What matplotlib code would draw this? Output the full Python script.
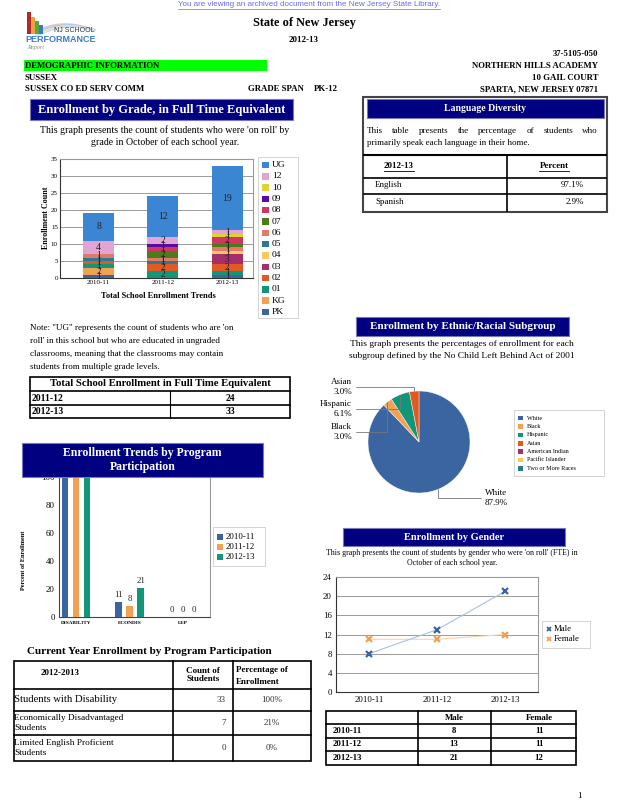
import matplotlib
matplotlib.use('Agg')
import matplotlib.pyplot as plt
from matplotlib.patches import Rectangle
from matplotlib.lines import Line2D
import numpy as np

plt.rcParams['font.family'] = ['Liberation Serif', 'DejaVu Serif']

W, H = 618, 800
NAVY = '#000080'

# ---- data ----
years = ['2010-11', '2011-12', '2012-13']
grades = ['PK', 'KG', '01', '02', '03', '04', '05', '06', '07', '08', '09', '10', '12', 'UG']
grade_colors = ['#3a65a0', '#f2a154', '#12967a', '#e05a22', '#a3306a', '#fbc860', '#2b7a92',
                '#e27a6a', '#4c7c1a', '#d33460', '#5c0aa6', '#dfd236', '#e2a4d2', '#3a86d2']
counts_2010 = [1, 2, 1, 1, 0, 0, 1, 1, 0, 0, 0, 0, 4, 8]
counts_2011 = [0, 0, 2, 2, 0, 0, 1, 1, 2, 1, 1, 0, 2, 12]
counts_2012 = [1, 0, 1, 2, 3, 1, 0, 1, 1, 2, 0, 1, 1, 19]

fte_years = ['2011-12', '2012-13']
fte_totals = [24, 33]

lang_names = ['English', 'Spanish']
lang_pct = [97.1, 2.9]

eth_names = ['White', 'Black', 'Hispanic', 'Asian', 'American Indian', 'Pacific Islander', 'Two or More Races']
eth_pct = [87.9, 3.0, 6.1, 3.0, 0.0, 0.0, 0.0]
eth_colors = ['#3a65a0', '#f2a154', '#12967a', '#e05a22', '#a3306a', '#fbc860', '#2b7a92']

prog_cats = ['DISABILITY', 'ECONDIS', 'LEP']
prog_2010 = [100, 11, 0]
prog_2011 = [100, 8, 0]
prog_2012 = [100, 21, 0]
prog_colors = ['#3a65a0', '#f2a154', '#12967a']

prog_rows = ['Students with Disability', 'Economically Disadvantaged\nStudents',
             'Limited English Proficient\nStudents']
prog_counts = [33, 7, 0]
prog_pcts = [100, 21, 0]

gender_male = [8, 13, 21]
gender_female = [11, 11, 12]

# ---- helpers (pixel coords, origin top-left) ----
fig = plt.figure(figsize=(W / 100, H / 100), dpi=100)
renderer = fig.canvas.get_renderer()


def fx(x):
    return x / W


def fy(y):
    return 1 - y / H


def txt(x, y, s, size=6.5, ha='left', va='center', bold=False, color='black', **kw):
    return fig.text(fx(x), fy(y), s, fontsize=size, ha=ha, va=va,
                    fontweight='bold' if bold else 'normal', color=color, **kw)


def rect(x0, y0, x1, y1, fc='none', ec='black', lw=0.8, z=1):
    fig.add_artist(Rectangle((fx(x0), fy(y1)), (x1 - x0) / W, (y1 - y0) / H,
                             transform=fig.transFigure, fc=fc, ec=ec, lw=lw, zorder=z))


def line(xs, ys, lw=0.8, color='black', z=2):
    fig.add_artist(Line2D([fx(v) for v in xs], [fy(v) for v in ys], lw=lw, color=color,
                          zorder=z, transform=fig.transFigure))


def axes_px(x0, y0, x1, y1):
    return fig.add_axes([fx(x0), fy(y1), (x1 - x0) / W, (y1 - y0) / H])


def banner(x0, y0, x1, y1, s, size=8.5):
    rect(x0, y0, x1, y1, fc=NAVY, ec='#7878b8', lw=0.8, z=5)
    fig.text(fx((x0 + x1) / 2), fy((y0 + y1) / 2), s, fontsize=size, ha='center', va='center',
             fontweight='bold', color='white', zorder=6, linespacing=1.15)


def width_of(t):
    return t.get_window_extent(renderer).width


def justify(x0, x1, y, s, size):
    words = s.split()
    ts = [txt(x0, y, w, size=size) for w in words]
    ws = [width_of(t) for t in ts]
    gap = (x1 - x0 - sum(ws)) / (len(words) - 1)
    xx = x0
    for t, w in zip(ts, ws):
        t.set_x(fx(xx))
        xx += w + gap


def underline(t, y, lw=0.6, color='black'):
    bb = t.get_window_extent(renderer)
    line([bb.x0, bb.x1], [y, y], lw=lw, color=color)


# ---- page header ----
t = txt(309, 4, 'You are viewing an archived document from the New Jersey State Library.',
        size=5.8, ha='center', color='#6a6af0', family='Liberation Sans')
underline(t, 8.5, lw=0.5, color='#6a6af0')

# logo
for (x0, y0, c) in [(27, 12, '#b02a2a'), (31, 17, '#f0a040'), (35, 21, '#5aa640'), (39, 25, '#3a7ac0')]:
    rect(x0, y0, x0 + 4, 34, fc=c, ec='none', z=2)
xs_logo = np.linspace(36, 95, 40)
for k, c in enumerate(['#f0c0d0', '#a0d0f0', '#f8e0a0', '#c0e0f8']):
    line(xs_logo, 30 - 6 * np.sin((xs_logo - 36) / 59 * np.pi) + 2 * k - k * (xs_logo - 36) / 30,
         lw=1.2, color=c, z=1)
txt(95, 31, 'NJ SCHOOL', size=5, ha='right', color='#333', family='Liberation Sans')
txt(25, 39.5, 'PERFORMANCE', size=6.5, bold=True, color='#3a7ac8', family='Liberation Sans')
txt(27, 48, 'Report', size=4.5, color='#888', style='italic')

txt(304, 23, 'State of New Jersey', size=8.8, bold=True, ha='center')
txt(304, 40, '2012-13', size=6.5, bold=True, ha='center')

for yy, s in zip([54, 66, 78, 89], ['37-5105-050', 'NORTHERN HILLS ACADEMY', '10 GAIL COURT',
                                    'SPARTA, NEW JERSEY 07871']):
    txt(598, yy, s, size=6.3, bold=True, ha='right')

rect(24, 60, 267, 71, fc='#00ff00', ec='none')
txt(25, 66, 'DEMOGRAPHIC INFORMATION', size=6.3, bold=True)
txt(25, 78, 'SUSSEX', size=6.3, bold=True)
txt(25, 89, 'SUSSEX CO ED SERV COMM', size=6.3, bold=True)
txt(248, 89, 'GRADE SPAN', size=6.3, bold=True)
txt(314, 89, 'PK-12', size=6.3, bold=True)

# ---- enrollment by grade ----
banner(30, 99, 293, 120, 'Enrollment by Grade, in Full Time Equivalent', size=9)
txt(165, 130, "This graph presents the count of students who were 'on roll' by", size=7.1, ha='center')
txt(165, 142, 'grade in October of each school year.', size=7.1, ha='center')

ax = axes_px(60, 159, 253, 278)
xg = np.arange(len(years))
by_year = np.array([counts_2010, counts_2011, counts_2012])
bottom = np.zeros(len(years))
for i, g in enumerate(grades):
    vals = by_year[:, i]
    ax.bar(xg, vals, 0.48, bottom=bottom, color=grade_colors[i], zorder=3, edgecolor='none')
    for xi, v, b in zip(xg, vals, bottom):
        if v > 0:
            ax.text(xi, b + v / 2, str(v), ha='center', va='center', fontsize=7, color='#222', zorder=4)
    bottom += vals
ax.set_xlim(-0.6, 2.4)
ax.set_ylim(0, 35)
ax.set_yticks(range(0, 36, 5))
ax.set_xticks(xg)
ax.set_xticklabels(years)
ax.grid(axis='y', color='#8a8a8a', lw=0.6, zorder=0)
ax.tick_params(labelsize=5, length=0, pad=1.5)
for s in ['top', 'right']:
    ax.spines[s].set_color('#999')
for s in ['left', 'bottom']:
    ax.spines[s].set_color('#333')
txt(46, 218, 'Enrollment Count', size=5.8, bold=True, ha='center', rotation=90)
txt(158, 296, 'Total School Enrollment Trends', size=6, bold=True, ha='center')

rect(258, 157, 298, 318, fc='white', ec='#cccccc', lw=0.6)
for k, i in enumerate(range(len(grades) - 1, -1, -1)):
    yy = 165 + k * 11.3
    rect(262, yy - 3.2, 268.5, yy + 3.2, fc=grade_colors[i], ec='none', z=3)
    txt(272, yy, grades[i], size=6.8)

notes = ['Note: "UG" represents the count of students who are \'on',
         "roll' in this school but who are educated in ungraded",
         'classrooms, meaning that the classrooms may contain',
         'students from multiple grade levels.']
for k, s in enumerate(notes):
    txt(30, 328 + k * 13, s, size=6.5)

# total enrollment table
rect(30, 377, 290, 418, lw=1.2)
line([30, 290], [391, 391], lw=1.2)
line([30, 290], [404.5, 404.5], lw=1.2)
line([170, 170], [391, 418], lw=0.8)
txt(160, 384, 'Total School Enrollment in Full Time Equivalent', size=7.7, bold=True, ha='center')
for k, (yr, tot) in enumerate(zip(fte_years, fte_totals)):
    txt(32, 398 + k * 13.5, yr, size=7, bold=True)
    txt(230, 398 + k * 13.5, str(tot), size=7, bold=True, ha='center')

# ---- program participation ----
banner(22, 443, 263, 477, 'Enrollment Trends by Program\nParticipation', size=8.5)
ax2 = axes_px(59, 477, 210, 617)
xp = np.arange(len(prog_cats))
ytop = 100
for k, (vals, c) in enumerate(zip([prog_2010, prog_2011, prog_2012], prog_colors)):
    xs = xp + (k - 1) * 0.205
    ax2.bar(xs, vals, 0.12, color=c, zorder=3)
    for xi, v in zip(xs, vals):
        if v < ytop * 0.9:  # labels of full bars sit under the title banner
            ax2.text(xi, v + 2, str(v), ha='center', va='bottom', fontsize=6.3, color='#222')
ax2.set_xlim(-0.32, 2.5)
ax2.set_ylim(0, ytop)
ax2.set_yticks(range(0, 101, 20))
ax2.set_xticks(xp)
ax2.set_xticklabels(prog_cats, fontsize=3.8, fontweight='bold')
ax2.tick_params(axis='y', labelsize=6.3, length=0, pad=3)
ax2.tick_params(axis='x', length=0, pad=3)
ax2.spines['top'].set_visible(False)
ax2.spines['right'].set_color('#999')
for s in ['left', 'bottom']:
    ax2.spines[s].set_color('#444')
txt(24, 560, 'Percent of Enrollment', size=4.5, bold=True, ha='center', rotation=90)

rect(213, 527, 265, 566, fc='white', ec='#cccccc', lw=0.6)
for k, (yr, c) in enumerate(zip(years, prog_colors)):
    yy = 537 + k * 10
    rect(217, yy - 2.8, 222.5, yy + 2.8, fc=c, ec='none', z=3)
    txt(226, yy, yr, size=6.3)

txt(149, 651, 'Current Year Enrollment by Program Participation', size=8, bold=True, ha='center')
rect(14, 661, 311, 761, lw=1.2)
for yy in [689, 711, 735]:
    line([14, 311], [yy, yy], lw=1.2)
line([173, 173], [661, 761], lw=1.2)
line([233, 233], [661, 761], lw=1.2)
txt(60, 673, '2012-2013', size=6.5, bold=True, ha='center')
txt(203, 675, 'Count of\nStudents', size=6.5, bold=True, ha='center', linespacing=1.05)
txt(236, 670, 'Percentage of', size=6.5, bold=True)
txt(236, 682, 'Enrollment', size=6.5, bold=True)
row_y = [700, 723, 748]
for yy, lab, n, p in zip(row_y, prog_rows, prog_counts, prog_pcts):
    txt(14, yy, lab, size=7.7 if '\n' not in lab else 6.7, linespacing=1.2)
    txt(226, yy, str(n), size=6.5, ha='right', color='#333')
    txt(272, yy, f'{p}%', size=6.5, ha='center', color='#333')

# ---- language diversity ----
rect(363, 97, 607, 212, ec='#444', lw=1.5)
banner(367, 99, 604, 118, 'Language Diversity', size=7)
justify(367, 598, 131, 'This table presents the percentage of students who', 6.5)
txt(367, 143, 'primarily speak each language in their home.', size=6.5)
line([364, 606], [155, 155], lw=1.5)
line([364, 606], [178, 178], lw=1.2)
line([364, 606], [194, 194], lw=1.2)
line([507, 507], [155, 211], lw=1.2)
t = txt(399, 166, '2012-13', size=6.5, bold=True, ha='center')
underline(t, 170.5, lw=0.6)
t = txt(554, 166, 'Percent', size=6.5, bold=True, ha='center')
underline(t, 170.5, lw=0.6)
for k, (nm, p) in enumerate(zip(lang_names, lang_pct)):
    txt(375, 185 + k * 16.5, nm, size=6.5)
    txt(584, 185 + k * 16.5, f'{p:.1f}%', size=6.5, ha='right')

# ---- ethnic / racial pie ----
banner(356, 317, 569, 336, 'Enrollment by Ethnic/Racial Subgroup', size=8)
txt(462, 344, 'This graph presents the percentages of enrollment for each', size=6.8, ha='center')
txt(462, 356, 'subgroup defined by the No Child Left Behind Act of 2001', size=6.8, ha='center')

axp = axes_px(368, 391, 470, 493)
nz = [i for i, v in enumerate(eth_pct) if v > 0]
wedges, _ = axp.pie([eth_pct[i] for i in nz], colors=[eth_colors[i] for i in nz],
                    startangle=90, counterclock=False, radius=1.0,
                    wedgeprops=dict(lw=0.3, ec='white'))
axp.set_xlim(-1, 1)
axp.set_ylim(-1, 1)
axp.set_aspect('equal')
label_pos = {'Asian': (352, 387, 'right'), 'Hispanic': (352, 409, 'right'),
             'Black': (352, 432, 'right'), 'White': (485, 498, 'left')}
for w, i in zip(wedges, nz):
    nm = eth_names[i]
    ang = np.deg2rad((w.theta1 + w.theta2) / 2)
    px, py, ha = label_pos[nm]
    axp.annotate(f'{nm}\n{eth_pct[i]:.1f}%', xy=(np.cos(ang), np.sin(ang)), xycoords='data',
                 xytext=(fx(px), fy(py)), textcoords='figure fraction', ha=ha, va='center',
                 fontsize=6.5, linespacing=1.25, annotation_clip=False,
                 arrowprops=dict(arrowstyle='-', color='#777', lw=0.6,
                                 connectionstyle='angle,angleA=0,angleB=90,rad=0',
                                 shrinkA=1, shrinkB=0))

rect(514, 410, 604, 476, fc='white', ec='#cccccc', lw=0.6)
for k, (nm, c) in enumerate(zip(eth_names, eth_colors)):
    yy = 418 + k * 8.4
    rect(518, yy - 2.3, 523, yy + 2.3, fc=c, ec='none', z=3)
    txt(527, yy, nm, size=4.4)

# ---- gender ----
banner(343, 528, 565, 546, 'Enrollment by Gender', size=7.5)
txt(452, 553, "This graph presents the count of students by gender who were 'on roll' (FTE) in",
    size=5.7, ha='center')
txt(452, 563, 'October of each school year.', size=5.7, ha='center')

ax3 = axes_px(336, 577, 538, 692)
xl = np.arange(len(years))
ax3.plot(xl, gender_male, color='#a8c0e2', lw=0.8, marker='x', ms=4.5, mew=1.6, mec='#3a65a0',
         label='Male', zorder=4)
ax3.plot(xl, gender_female, color='#f8d4a8', lw=0.8, marker='x', ms=4.5, mew=1.6, mec='#f2a154',
         label='Female', zorder=3)
ax3.set_xlim(-0.485, 2.485)
ax3.set_ylim(0, 24)
ax3.set_yticks(range(0, 25, 4))
ax3.set_xticks(xl)
ax3.set_xticklabels(years)
ax3.grid(axis='y', color='#8a8a8a', lw=0.6, zorder=0)
ax3.tick_params(labelsize=6.3, length=0, pad=3)
for s in ['top', 'right']:
    ax3.spines[s].set_color('#999')
for s in ['left', 'bottom']:
    ax3.spines[s].set_color('#333')

rect(542, 621, 590, 648, fc='white', ec='#cccccc', lw=0.6)
for k, (nm, c) in enumerate(zip(['Male', 'Female'], ['#3a65a0', '#f2a154'])):
    yy = 629 + k * 10
    fig.add_artist(Line2D([fx(549)], [fy(yy)], marker='x', ms=3.5, mew=1.3, color=c,
                          transform=fig.transFigure, zorder=3))
    txt(554, yy, nm, size=6.3)

rect(326, 711, 576, 765, lw=1.2)
for yy in [724, 737.5, 751]:
    line([326, 576], [yy, yy], lw=1.2)
line([418, 418], [711, 765], lw=1.2)
line([491, 491], [711, 765], lw=1.2)
txt(454, 717.5, 'Male', size=6.3, bold=True, ha='center')
txt(539, 717.5, 'Female', size=6.3, bold=True, ha='center')
for k, (yr, m, f) in enumerate(zip(years, gender_male, gender_female)):
    yy = 731 + k * 13.5
    txt(333, yy, yr, size=6.3, bold=True)
    txt(454, yy, str(m), size=6.3, bold=True, ha='center')
    txt(539, yy, str(f), size=6.3, bold=True, ha='center')

txt(579, 796, '1', size=6.5, ha='center')

fig.savefig('out.png', dpi=100)
